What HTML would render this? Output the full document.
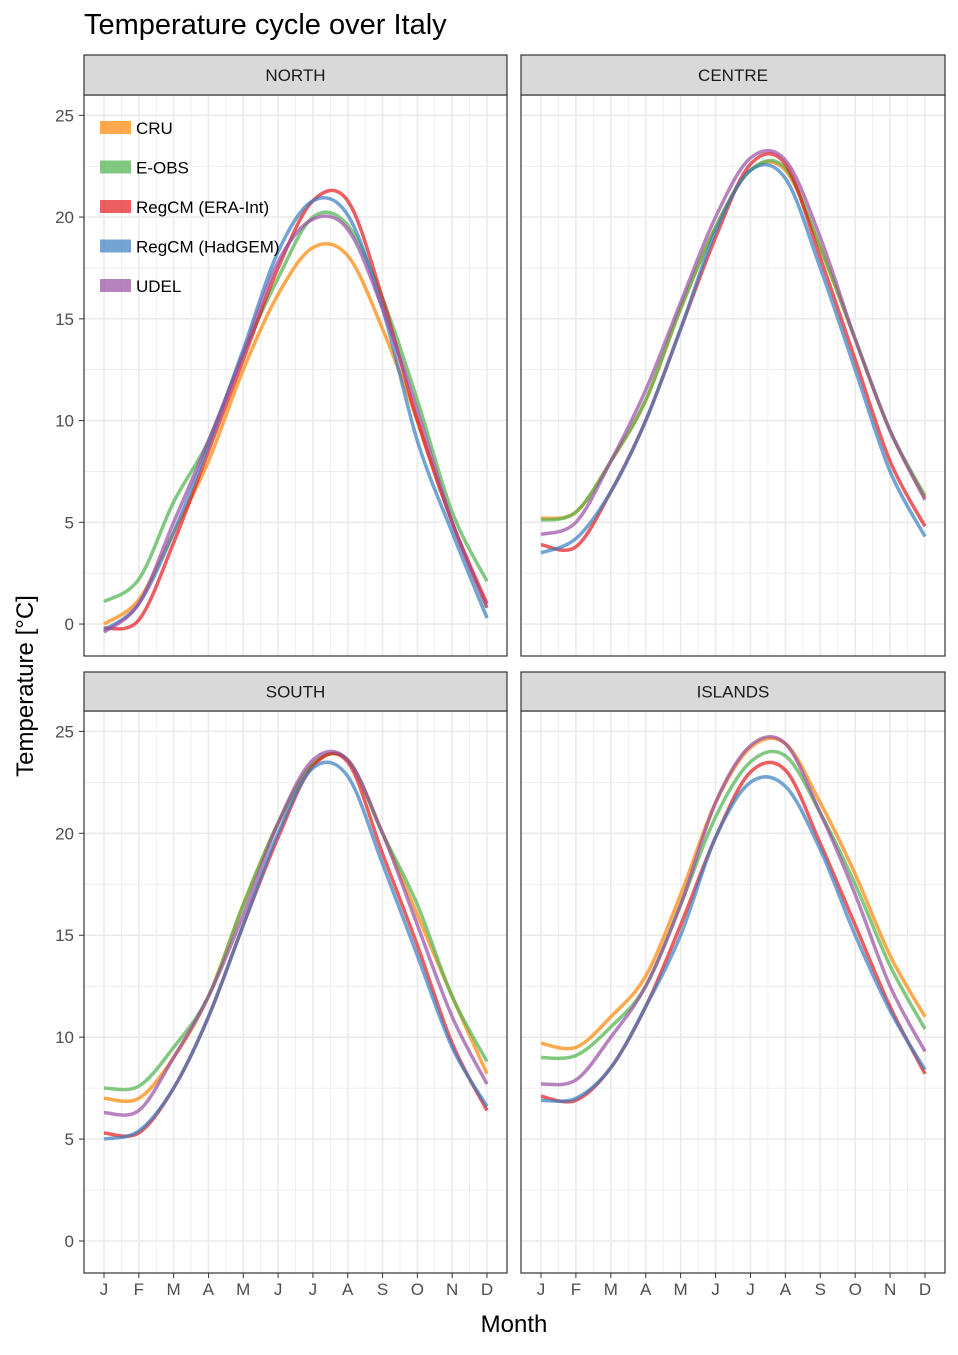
<!DOCTYPE html>
<html><head><meta charset="utf-8"><style>
body{margin:0;background:#fff;font-family:"Liberation Sans",sans-serif}
</style></head><body>
<svg id="c" width="958" height="1350" xmlns="http://www.w3.org/2000/svg" font-family="Liberation Sans, sans-serif">
<rect width="958" height="1350" fill="#fff"/>
<text x="84" y="34" font-size="29" fill="#000">Temperature cycle over Italy</text>
<text x="514" y="1332" font-size="24" text-anchor="middle">Month</text>
<text transform="translate(33,686) rotate(-90)" font-size="24" text-anchor="middle">Temperature [°C]</text>
</svg>
<script>
const months=["J","F","M","A","M","J","J","A","S","O","N","D"];
const yTicks=[0,5,10,15,20,25];
const seriesNames=["CRU","E-OBS","RegCM (ERA-Int)","RegCM (HadGEM)","UDEL"];
const panelNames=["NORTH","CENTRE","SOUTH","ISLANDS"];
const northCRU=[0,1.2,4.5,8,12.5,16.2,18.5,18.1,14.5,10,5,0.8];
const northEOBS=[1.1,2.2,6,9,13.3,17,20,19.6,16,11,5.5,2.1];
const northERA=[-0.2,0.2,4,8.5,13,17.5,20.8,20.8,16,10,5,1];
const northHad=[-0.3,1,4.5,8.8,13.5,18.3,20.8,20.1,15.5,9,4.5,0.3];
const northUDEL=[-0.4,1,5,9,13.3,17.8,19.9,19.4,15.5,10.5,5,0.8];
const centreCRU=[5.2,5.5,8,11,15.5,19.5,22.3,22.3,18.5,14,9.5,6.2];
const centreEOBS=[5.1,5.5,8,11,15.5,19.5,22.3,22.4,18.5,14,9.5,6.3];
const centreERA=[3.9,3.8,6.5,10,14.5,19,22.6,22.6,18,13,8,4.8];
const centreHad=[3.5,4.2,6.5,10,14.5,19.3,22.3,21.9,17.5,12.5,7.5,4.3];
const centreUDEL=[4.4,5,8,11.5,15.8,20,22.9,22.8,19,14,9.5,6.1];
const southCRU=[7,7,9,12,16.5,20.5,23.4,23.6,20,16,12,8.2];
const southEOBS=[7.5,7.6,9.5,12,16.5,20.5,23.4,23.6,20,16.5,12,8.8];
const southERA=[5.3,5.3,7.5,11,15.5,19.8,23.3,23.5,19,14.5,9.7,6.4];
const southHad=[5,5.4,7.5,11,15.5,20,23.2,22.8,18.5,14,9.5,6.6];
const southUDEL=[6.3,6.4,9,12,16,20.5,23.6,23.6,20,15.5,11,7.7];
const islandsCRU=[9.7,9.5,11,13,17,21.5,24.2,24.4,21.5,18,14,11];
const islandsEOBS=[9,9.1,10.5,12.5,16.5,20.8,23.5,23.8,21,17.5,13.5,10.4];
const islandsERA=[7.1,6.9,8.5,11.5,15.5,19.8,23,23.1,19.5,15.5,11.5,8.2];
const islandsHad=[6.9,7,8.5,11.5,15,19.8,22.5,22.3,19.2,15,11.3,8.4];
const islandsUDEL=[7.7,7.9,10,12.5,16.5,21.5,24.3,24.4,21,17,12.5,9.3];

const panelData=[[northCRU,northEOBS,northERA,northHad,northUDEL],[centreCRU,centreEOBS,centreERA,centreHad,centreUDEL],[southCRU,southEOBS,southERA,southHad,southUDEL],[islandsCRU,islandsEOBS,islandsERA,islandsHad,islandsUDEL]];
const colors=["rgba(255,140,20,0.75)","rgba(80,180,80,0.72)","rgba(228,26,28,0.7)","rgba(55,126,194,0.7)","rgba(152,78,163,0.7)"];
const svg=document.getElementById('c');
const NS="http://www.w3.org/2000/svg";
function mk(t,a,p){const e=document.createElementNS(NS,t);for(const k in a)e.setAttribute(k,a[k]);(p||svg).appendChild(e);return e;}
const boxes=[{x0:84,x1:507,top:95,bot:656,strip:55},{x0:521,x1:945,top:95,bot:656,strip:55},{x0:84,x1:507,top:711,bot:1273,strip:672},{x0:521,x1:945,top:711,bot:1273,strip:672}];
const yMin=-1.57,yMax=26.0;
function path(pts){let d="M"+pts[0][0]+","+pts[0][1];for(let i=0;i<pts.length-1;i++){const p0=pts[i-1]||pts[i],p1=pts[i],p2=pts[i+1],p3=pts[i+2]||p2;const c1=[p1[0]+(p2[0]-p0[0])/6,p1[1]+(p2[1]-p0[1])/6],c2=[p2[0]-(p3[0]-p1[0])/6,p2[1]-(p3[1]-p1[1])/6];d+=` C${c1[0]},${c1[1]} ${c2[0]},${c2[1]} ${p2[0]},${p2[1]}`;}return d;}
boxes.forEach((b,pi)=>{
  const g=mk('g',{});
  
  
  const xs=i=>b.x0+20+i*(b.x1-b.x0-40)/11;
  const ys=v=>b.bot-(v-yMin)/(yMax-yMin)*(b.bot-b.top);
  for(let v=-2.5;v<=27.5;v+=2.5){const y=ys(v);if(y<b.top||y>b.bot)continue;mk('line',{x1:b.x0,x2:b.x1,y1:y,y2:y,stroke:"#ebebeb","stroke-width":(v%5===0)?1.6:0.8},g);}
  for(let i=0;i<12;i++){mk('line',{x1:xs(i),x2:xs(i),y1:b.top,y2:b.bot,stroke:"#ebebeb","stroke-width":1.6},g);if(i<11){const xm=xs(i+0.5);mk('line',{x1:xm,x2:xm,y1:b.top,y2:b.bot,stroke:"#ebebeb","stroke-width":0.8},g);}}
  panelData[pi].forEach((arr,si)=>{
    const p=mk('path',{d:path(arr.map((v,i)=>[xs(i),ys(v)])),fill:"none",stroke:colors[si],"stroke-width":3.5,"stroke-linejoin":"round"},g);
    
    
  });
  mk('rect',{x:b.x0,y:b.top,width:b.x1-b.x0,height:b.bot-b.top,fill:"none",stroke:"#333","stroke-width":1.2},g);
  const s=mk('rect',{x:b.x0,y:b.strip,width:b.x1-b.x0,height:b.top-b.strip,fill:"#d9d9d9",stroke:"#333","stroke-width":1.2},g);
  
  
  const st=mk('text',{x:(b.x0+b.x1)/2,y:(b.strip+b.top)/2+6,"font-size":17,"text-anchor":"middle",fill:"#1a1a1a"},g);st.textContent=panelNames[pi];
  if(pi%2===0){yTicks.forEach(v=>{const y=ys(v);mk('line',{x1:b.x0-5,x2:b.x0,y1:y,y2:y,stroke:"#333"},g);const t=mk('text',{x:b.x0-10,y:y+6,"font-size":17,"text-anchor":"end",fill:"#4d4d4d"},g);t.textContent=v;});}
  if(pi>=2){months.forEach((m,i)=>{mk('line',{x1:xs(i),x2:xs(i),y1:b.bot,y2:b.bot+5,stroke:"#333"},g);const t=mk('text',{x:xs(i),y:b.bot+22,"font-size":17,"text-anchor":"middle",fill:"#4d4d4d"},g);t.textContent=m;});}
  if(pi===0){seriesNames.forEach((n,si)=>{const y=127+si*39.5;const e=mk('g',{},g);mk('rect',{x:100,y:y-6,width:31,height:13,fill:colors[si]},e);const t=mk('text',{x:136,y:y+7,"font-size":17,fill:"#000"},e);t.textContent=n;});}
});
</script>
</body></html>
